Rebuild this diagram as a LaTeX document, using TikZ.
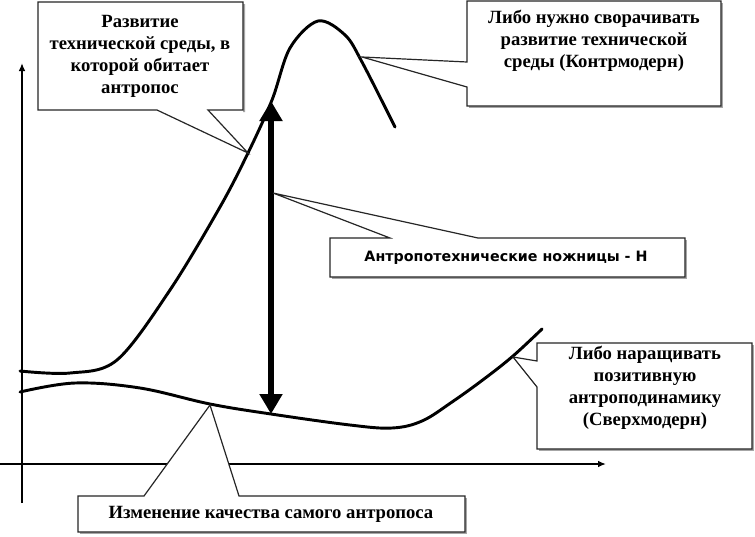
\documentclass[tikz,border=0pt]{standalone}
\usepackage{fontspec}
\setmainfont{Liberation Serif}
\newfontfamily\sansb{DejaVu Sans}
\usetikzlibrary{arrows.meta}
\begin{document}
\begin{tikzpicture}[x=0.75pt,y=-0.75pt,
  callout/.style={draw=black!85, line width=0.9pt, fill=white, line join=miter},
  shadowpath/.style={fill=black!35, draw=none},
  lbl/.style={font=\bfseries\fontsize{14pt}{16.5pt}\selectfont, align=center, inner sep=0pt},
  curve/.style={line width=2.2pt, line cap=round},
  axis/.style={line width=1.5pt, -{Latex[length=6pt,width=5pt]}},
  gap/.style={line width=5pt, {Triangle[length=15pt,width=16.5pt]}-{Triangle[length=15pt,width=16.5pt]}}
]
\useasboundingbox (0,0) rectangle (755,536);
\fill[white] (0,0) rectangle (755,536);

% axes
\coordinate (yb) at (22,503);
\coordinate (yt) at (22,63);
\coordinate (xl) at (0,464);
\coordinate (xr) at (606,464);
\draw[axis] (yb) -- (yt);
\draw[axis] (xl) -- (xr);

% curves
\draw[curve] plot[smooth, tension=0.55] coordinates {(20,371) (70,373) (117,360) (170,290) (220,207) (248,153) (272,100) (290,48) (318,21) (345,35) (362,62) (395,127)};
\draw[curve] plot[smooth, tension=0.6] coordinates {(20,392) (75,383) (140,388) (210,404) (271,414) (350,425) (392,428) (422,421) (452,402) (484,379) (513,356) (542,329)};

% gap arrow
\coordinate (at) at (271,101);
\coordinate (ab) at (271,414);
\draw[gap] (ab) -- (at);

% callout tips
\coordinate (t1) at (248,153);
\coordinate (t2) at (362,57);
\coordinate (t3) at (273,193);
\coordinate (t4) at (513,357);
\coordinate (t5) at (210,405);

% callout 1
\fill[shadowpath] (40,4) -- (245,4) -- (245,112) -- (243,112) -- (243,110) -- cycle;
\draw[callout] (38,2) -- (243,2) -- (243,110) -- (208,110) -- (t1) -- (157,110) -- (38,110) -- cycle;
\node[lbl] (n1) at (140,56) {Развитие\\технической среды, в\\которой обитает\\антропос};

% callout 2
\fill[shadowpath] (469,108) rectangle (723,106);
\fill[shadowpath] (721,3) rectangle (723,108);
\draw[callout] (467,1) -- (721,1) -- (721,106) -- (467,106) -- (467,87) -- (t2) -- (467,62) -- cycle;
\node[lbl] (n2) at (594,41) {Либо нужно сворачивать\\развитие технической\\среды (Контрмодерн)};

% callout 3
\fill[shadowpath] (332,277) rectangle (687,279);
\fill[shadowpath] (685,240) rectangle (687,279);
\draw[callout] (330,238) -- (390,238) -- (t3) -- (478,238) -- (685,238) -- (685,277) -- (330,277) -- cycle;
\node[lbl, font=\sansb\bfseries\fontsize{10.7pt}{13pt}\selectfont] (n3) at (506,258) {Антропотехнические ножницы - Н};

% callout 4
\fill[shadowpath] (539,449) rectangle (754,451);
\fill[shadowpath] (752,345) rectangle (754,451);
\draw[callout] (537,343) -- (752,343) -- (752,449) -- (537,449) -- (537,387) -- (t4) -- (537,361) -- cycle;
\node[lbl] (n4) at (645,388) {Либо наращивать\\позитивную\\антроподинамику\\(Сверхмодерн)};

% callout 5
\fill[shadowpath] (80,532) rectangle (467,534);
\fill[shadowpath] (465,498) rectangle (467,534);
\draw[callout] (78,496) -- (144,496) -- (t5) -- (239,496) -- (465,496) -- (465,532) -- (78,532) -- cycle;
\node[lbl] (n5) at (271,514) {Изменение качества самого антропоса};
\end{tikzpicture}
\end{document}
